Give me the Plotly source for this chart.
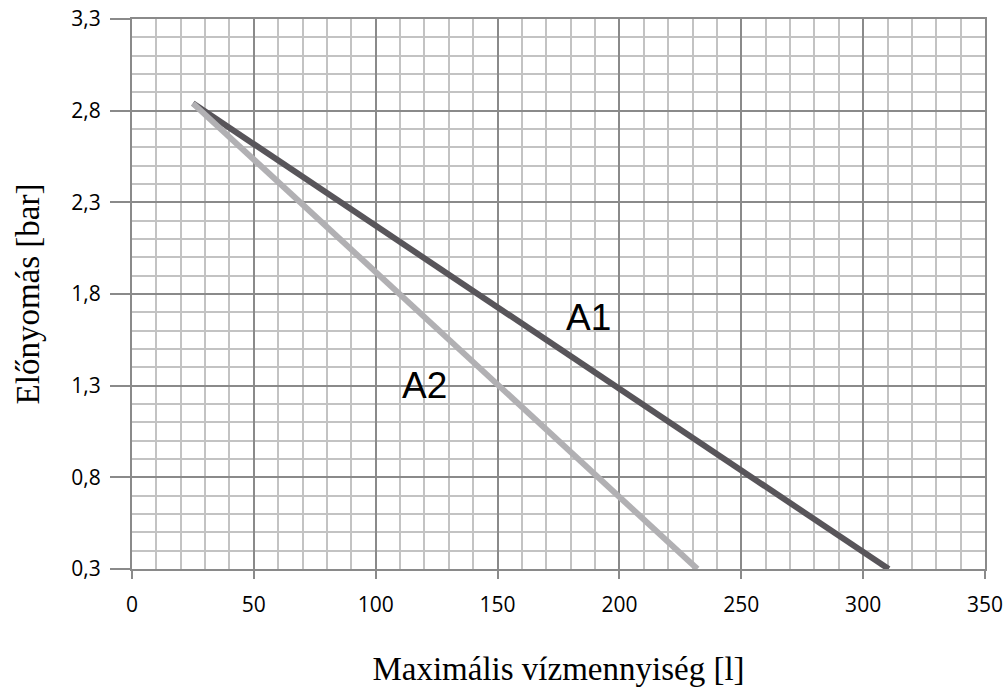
import plotly.graph_objects as go

# Data
a1_x = [25, 310.5]
a1_y = [2.84, 0.3]
a2_x = [25, 232]
a2_y = [2.84, 0.3]

x_tickvals = [0, 50, 100, 150, 200, 250, 300, 350]
x_ticktext = ["0", "50", "100", "150", "200", "250", "300", "350"]
y_tickvals = [0.3, 0.8, 1.3, 1.8, 2.3, 2.8, 3.3]
y_ticktext = ["0,3", "0,8", "1,3", "1,8", "2,3", "2,8", "3,3"]

labels = [("A1", 187.5, 1.67), ("A2", 120, 1.30)]

fig = go.Figure()
fig.add_trace(go.Scatter(x=a1_x, y=a1_y, mode="lines",
                         line=dict(color="#58555a", width=6), showlegend=False))
fig.add_trace(go.Scatter(x=a2_x, y=a2_y, mode="lines",
                         line=dict(color="#b1b0b3", width=6), showlegend=False))

for t, x, y in labels:
    fig.add_annotation(x=x, y=y, text=t, showarrow=False,
                       font=dict(family="Liberation Sans, Arial", size=37, color="black"))

grid_major = "#8a8a8a"
grid_minor = "#c3c3c3"
tick_font = dict(family="Open Sans, Lato, sans-serif", size=21, color="black")
title_font = dict(family="Liberation Serif, DejaVu Serif, serif", size=33, color="black")

fig.update_layout(
    width=1007, height=690,
    margin=dict(l=132, r=22, t=19, b=121),
    paper_bgcolor="white", plot_bgcolor="white",
    xaxis=dict(range=[0, 350], tickvals=x_tickvals, ticktext=x_ticktext,
               automargin=False,
               showgrid=True, gridcolor=grid_major, gridwidth=2,
               ticks="outside", ticklen=8, tickwidth=2, tickcolor=grid_major,
               ticklabelstandoff=8,
               showline=True, linecolor=grid_major, linewidth=2, mirror=True,
               zeroline=False,
               minor=dict(dtick=10, tick0=0, showgrid=True, gridcolor=grid_minor, gridwidth=2),
               tickfont=tick_font,
               title=dict(text="Maximális vízmennyiség [l]", standoff=40, font=title_font)),
    yaxis=dict(range=[0.3, 3.3], tickvals=y_tickvals, ticktext=y_ticktext,
               automargin=False,
               showgrid=True, gridcolor=grid_major, gridwidth=2,
               ticks="outside", ticklen=20, tickwidth=2, tickcolor=grid_major,
               ticklabelstandoff=5,
               showline=True, linecolor=grid_major, linewidth=2, mirror=True,
               zeroline=False,
               minor=dict(dtick=0.1, tick0=0.3, showgrid=True, gridcolor=grid_minor, gridwidth=2),
               tickfont=tick_font,
               title=dict(text="Előnyomás [bar]", standoff=22, font=title_font)),
)

fig.write_html("out.html", config={"displayModeBar": False},
               post_script="document.body.style.margin='0px';")
